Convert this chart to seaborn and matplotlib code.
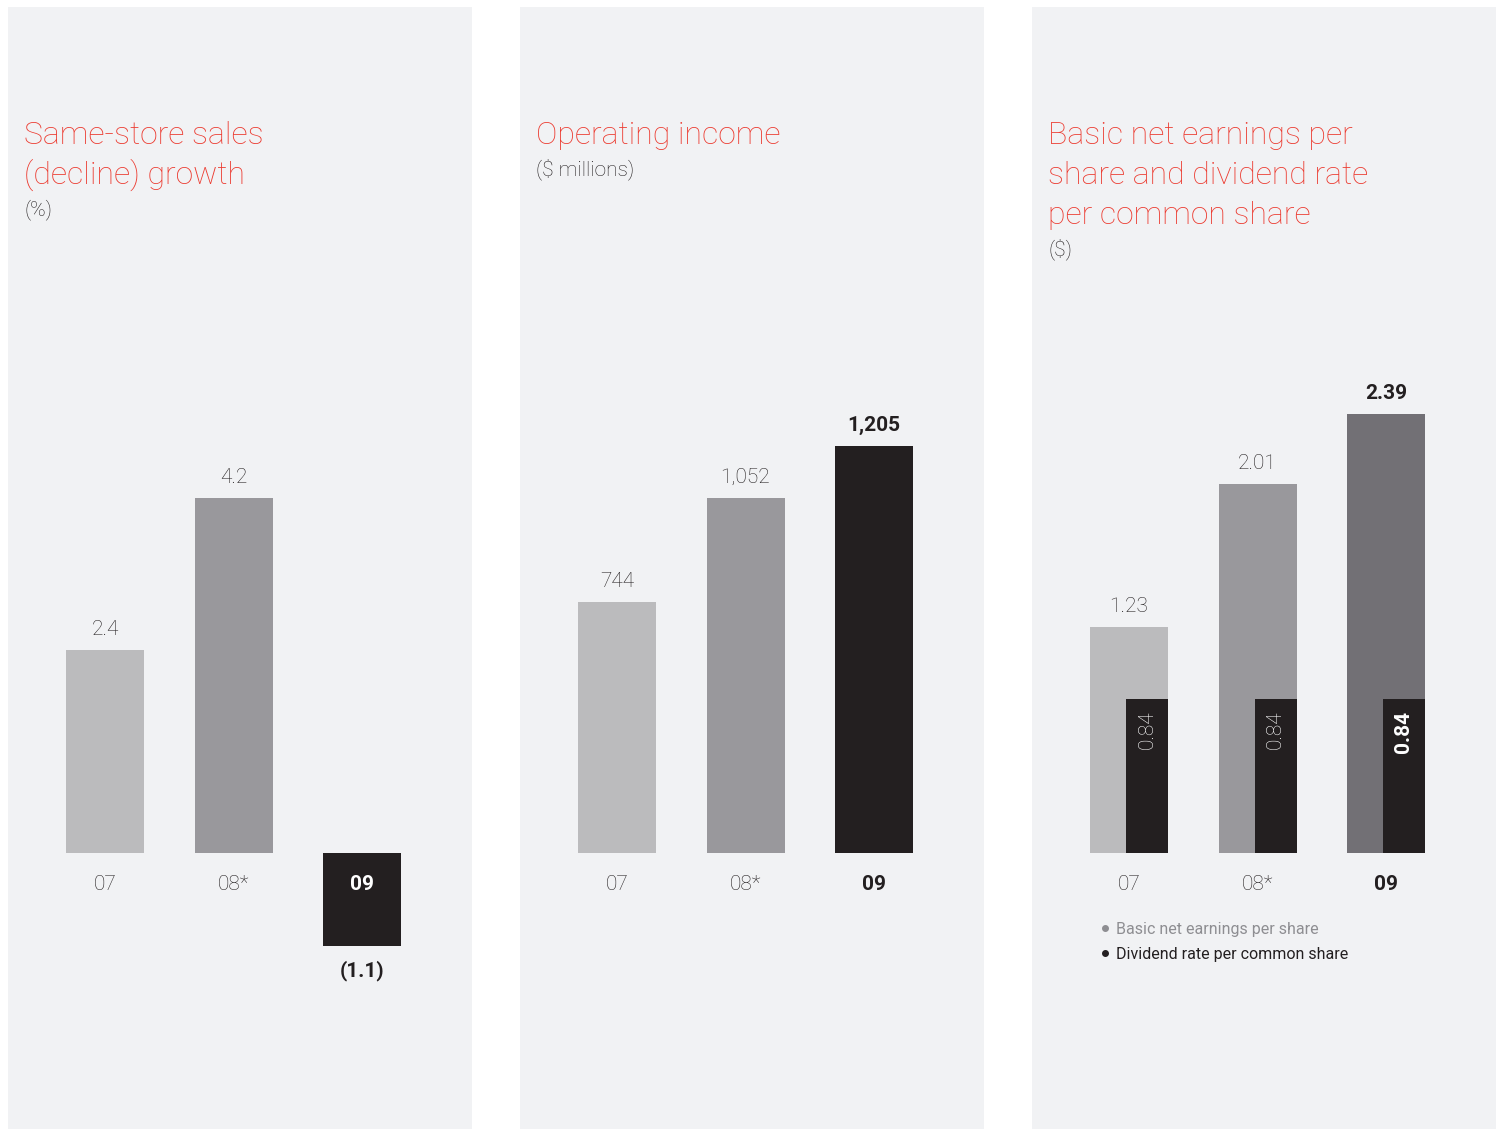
import matplotlib
matplotlib.use("Agg")
import matplotlib.pyplot as plt
from matplotlib.lines import Line2D
import seaborn as sns
import numpy as np
import pandas as pd

# ---------------- data ----------------
years = ["07", "08*", "09"]
same_store = [2.4, 4.2, -1.1]
same_store_labels = ["2.4", "4.2", "(1.1)"]
op_income = [744, 1052, 1205]
op_income_labels = ["744", "1,052", "1,205"]
eps = [1.23, 2.01, 2.39]
eps_labels = ["1.23", "2.01", "2.39"]
dividend = [0.84, 0.84, 0.84]
dividend_labels = ["0.84", "0.84", "0.84"]

titles = [["Same-store sales", "(decline) growth"],
          ["Operating income"],
          ["Basic net earnings per", "share and dividend rate", "per common share"]]
units = ["(%)", "($ millions)", "($)"]
legend_labels = ["Basic net earnings per share", "Dividend rate per common share"]

# ---------------- style ----------------
sns.set_theme(style="white")
plt.rcParams["font.family"] = ["Roboto", "DejaVu Sans"]

W, H = 1500, 1129
BG = "#f1f2f4"
RED = "#ec3a2f"
TXT = "#231f20"
LIGHT = "#bbbbbd"
MID = "#99989c"
DARK = "#231f20"
DARK2 = "#727075"
LEG_GRAY = "#8e8e92"

colors_list = [[LIGHT, MID, DARK], [LIGHT, MID, DARK], [LIGHT, MID, DARK2]]
panel_lefts = [8, 520, 1032]
panel_w = 464
panel_top = 7
baseline_px = 853          # y of value 0 (from top)
px_per_unit = [84.5, 0.3376, 183.7]
step_px = 128.5            # spacing between bar centres
first_center_px = 97.0     # first bar centre from panel left
bar_w = 78 / step_px
div_w = 42 / step_px

fig = plt.figure(figsize=(15, 11.29), dpi=100)
fig.patch.set_facecolor("white")


def fx(x):
    return x / W


def fy(y):
    return 1 - y / H


series = [same_store, op_income, eps]
series_labels = [same_store_labels, op_income_labels, eps_labels]

for p in range(3):
    left = panel_lefts[p]
    ax = fig.add_axes([fx(left), 0, panel_w / W, (H - panel_top) / H])
    ax.set_facecolor(BG)
    df = pd.DataFrame({"year": years, "value": series[p]})
    sns.barplot(data=df, x="year", y="value", hue="year", palette=colors_list[p],
                width=bar_w, legend=False, ax=ax, saturation=1, linewidth=0,
                errorbar=None)
    xs = np.arange(len(years))
    if p == 2:
        ax.bar(xs + bar_w / 2 - div_w / 2, dividend, width=div_w, color=DARK,
               linewidth=0, zorder=3)
        for i, lab in enumerate(dividend_labels):
            bold = i == len(years) - 1
            ax.annotate(lab, xy=(xs[i] + bar_w / 2 - div_w / 2, dividend[i]),
                        xytext=(0, -12), textcoords="offset pixels",
                        rotation=90, ha="center", va="top", color="white",
                        fontsize=15, fontweight="bold" if bold else "light",
                        zorder=4)
    # axes scaling
    s = px_per_unit[p]
    ax.set_ylim(-(H - baseline_px) / s, (baseline_px - panel_top) / s)
    ax.set_xlim(-first_center_px / step_px, (panel_w - first_center_px) / step_px)
    for sp in ax.spines.values():
        sp.set_visible(False)
    ax.set_xticks([])
    ax.set_yticks([])
    ax.set_xlabel("")
    ax.set_ylabel("")

    # value labels
    for i, (v, lab) in enumerate(zip(series[p], series_labels[p])):
        bold = i == len(years) - 1
        if v >= 0:
            ax.annotate(lab, xy=(xs[i], v), xytext=(0, 15), textcoords="offset pixels",
                        ha="center", va="baseline", color=TXT, fontsize=15,
                        fontweight="bold" if bold else "light")
        else:
            ax.annotate(lab, xy=(xs[i], v), xytext=(0, -31), textcoords="offset pixels",
                        ha="center", va="baseline", color=TXT, fontsize=15,
                        fontweight="bold" if bold else "light")
    # category labels
    for i, yr in enumerate(years):
        bold = i == len(years) - 1
        inside = series[p][i] < 0
        ax.annotate(yr, xy=(xs[i], 0), xytext=(0, -37), textcoords="offset pixels",
                    ha="center", va="baseline",
                    color="white" if inside else TXT, fontsize=15,
                    fontweight="bold" if bold else "light", zorder=5)

    # titles
    tx = left + 16
    for k, line in enumerate(titles[p]):
        fig.text(fx(tx), fy(144 + 40 * k), line, color=RED, fontsize=23,
                 fontweight="light", ha="left", va="baseline")
    fig.text(fx(tx), fy(144 + 40 * (len(titles[p]) - 1) + 31), units[p],
             color=TXT, fontsize=15, fontweight="light", ha="left", va="baseline")

    if p == 2:
        handles = [Line2D([], [], marker="o", ls="", color=LEG_GRAY, markersize=4),
                   Line2D([], [], marker="o", ls="", color=DARK, markersize=4)]
        leg = ax.legend(handles, legend_labels, loc="upper left",
                        bbox_to_anchor=(fx(1100), fy(922)),
                        bbox_transform=fig.transFigure, frameon=False,
                        fontsize=11.5, handlelength=0.6, handletextpad=0.4,
                        labelspacing=0.6, borderpad=0, borderaxespad=0,
                        labelcolor=[LEG_GRAY, TXT])

fig.savefig("out.png", dpi=100, facecolor="white")
